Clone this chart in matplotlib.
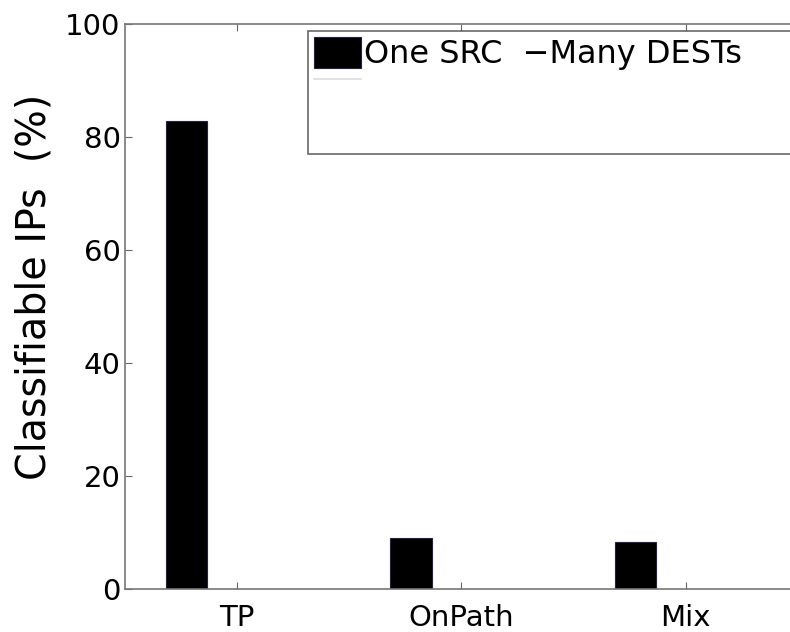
import numpy as np
import matplotlib.pyplot as plt
from matplotlib.lines import Line2D

categories = ['TP', 'OnPath', 'Mix']
one_src = [82.8, 9.0, 8.3]
many_dests = [0.0, 0.0, 0.0]
series_labels = ['One SRC  \u2212Many DESTs', '']

x = np.arange(1, len(categories) + 1)
w = 0.183
off = -0.316

fig = plt.figure(figsize=(7.9, 6.32), dpi=100)
ax = fig.add_axes([0.158, 0.068, 0.852, 0.894])

b1 = ax.bar(x + off, one_src, width=w, align='edge', color='black',
            edgecolor='#222244', linewidth=0.8, label=series_labels[0])
b2 = ax.bar(x + off + w, many_dests, width=w, align='edge', color='white',
            edgecolor='#dddddd', linewidth=0.8, label=series_labels[1])

ax.set_xlim(0.5, 3.5)
ax.set_ylim(0, 100)
ax.set_yticks([0, 20, 40, 60, 80, 100])
ax.set_xticks(x)
ax.set_xticklabels(categories, fontsize=21)
ax.tick_params(axis='y', labelsize=21, direction='in', length=5, color='#666666', pad=3)
ax.tick_params(axis='x', direction='in', length=5, color='#666666', top=True, pad=11)
for s in ax.spines.values():
    s.set_color('#777777')
    s.set_linewidth(1.2)
ax.set_ylabel('Classifiable IPs  (%)', fontsize=28.5)
ax.yaxis.set_label_coords(-0.104, 0.535)

flat = Line2D([], [], color='#dddddd', linewidth=1.2)
leg = ax.legend(handles=[b1, flat], labels=series_labels, loc='upper left',
                bbox_to_anchor=(0.272, 0.988, 0.8, 0.0), mode='expand',
                fontsize=23, frameon=True, fancybox=False, borderpad=0.2,
                handlelength=1.45, handleheight=1.1, handletextpad=0.12,
                labelspacing=-0.15, borderaxespad=0)
leg.get_frame().set_edgecolor('#444444')
leg.get_frame().set_linewidth(1.2)
leg._legend_box.set_height(110)

fig.savefig('out.png', dpi=100)
